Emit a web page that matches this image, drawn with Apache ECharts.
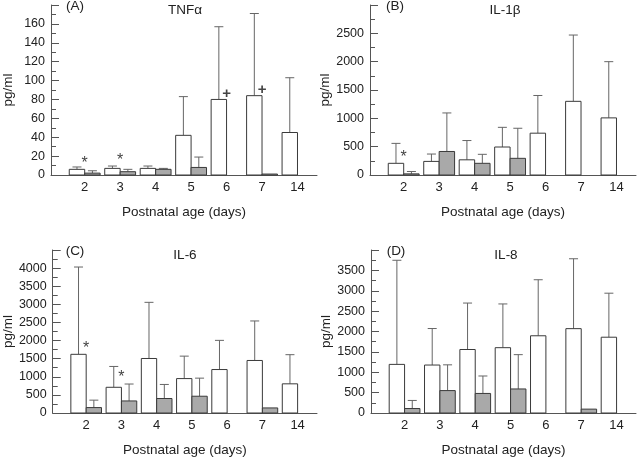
<!DOCTYPE html>
<html lang="en">
<head>
    <meta charset="UTF-8">
    <title>Cytokines by postnatal age</title>
    <script src="https://cdn.jsdelivr.net/npm/echarts@6/dist/echarts.min.js"></script>
    <style>
        html, body { margin: 0; padding: 0; background: #fff; }
        #main { width: 640px; height: 458px; }
    </style>
</head>
<body>
<div id="main"></div>
<script>
    // postnatal age categories
    var days = ['2', '3', '4', '5', '6', '7', '14'];

    // (A) TNFa - white = first group, grey = second group, sd = error bar length
    var tnfWhite = [6, 7, 7, 42, 80, 84, 45];
    var tnfWhiteSd = [2.5, 2.5, 2.5, 41, 77, 87, 58];
    var tnfGrey = [2, 3.5, 6, 8, null, 1, null];
    var tnfGreySd = [2.5, 2.5, 1, 11, null, 0, null];
    var tnfMarks = ['*', '*', '', '', '+', '+', ''];
    var tnfMarkAt = [16, 19, null, null, 86, 90, null];

    // (B) IL-1b
    var il1White = [206, 240, 268, 494, 738, 1300, 1008];
    var il1WhiteSd = [352, 130, 340, 347, 665, 1170, 992];
    var il1Grey = [20, 415, 206, 294, null, null, null];
    var il1GreySd = [42, 680, 159, 531, null, null, null];
    var il1Marks = ['*', '', '', '', '', '', ''];
    var il1MarkAt = [370, null, null, null, null, null, null];

    // (C) IL-6
    var il6White = [1620, 710, 1505, 950, 1200, 1450, 805];
    var il6WhiteSd = [2410, 575, 1550, 620, 805, 1091, 805];
    var il6Grey = [150, 333, 400, 463, null, 140, null];
    var il6GreySd = [205, 467, 388, 499, null, 0, null];
    var il6Marks = ['*', '*', '', '', '', '', ''];
    var il6MarkAt = [1880, 1090, null, null, null, null, null];

    // (D) IL-8
    var il8White = [1193, 1177, 1558, 1603, 1895, 2070, 1860];
    var il8WhiteSd = [2555, 896, 1140, 1073, 1375, 1715, 1080];
    var il8Grey = [110, 550, 480, 590, null, 95, null];
    var il8GreySd = [198, 632, 428, 842, null, 0, null];
    var il8Marks = ['', '', '', '', '', '', ''];
    var il8MarkAt = [null, null, null, null, null, null, null];

    var panels = [
        {tag: '(A)', name: 'TNF\u03b1', white: tnfWhite, whiteSd: tnfWhiteSd, grey: tnfGrey, greySd: tnfGreySd,
            marks: tnfMarks, markAt: tnfMarkAt, max: 180, step: 20,
            grid: {left: 50, top: 5, width: 267, height: 170}},
        {tag: '(B)', name: 'IL-1\u03b2', white: il1White, whiteSd: il1WhiteSd, grey: il1Grey, greySd: il1GreySd,
            marks: il1Marks, markAt: il1MarkAt, max: 3000, step: 500,
            grid: {left: 370, top: 5, width: 266, height: 170}},
        {tag: '(C)', name: 'IL-6', white: il6White, whiteSd: il6WhiteSd, grey: il6Grey, greySd: il6GreySd,
            marks: il6Marks, markAt: il6MarkAt, max: 4500, step: 500,
            grid: {left: 50, top: 250, width: 267, height: 171}},
        {tag: '(D)', name: 'IL-8', white: il8White, whiteSd: il8WhiteSd, grey: il8Grey, greySd: il8GreySd,
            marks: il8Marks, markAt: il8MarkAt, max: 4000, step: 500,
            grid: {left: 371, top: 250, width: 265, height: 171}}
    ];

    var HALF = 0.435; // bar width in category units

    // bar + error bar drawn through the axis scales
    function barRenderer(side, fill) {
        return function (params, api) {
            var i = api.value(0), m = api.value(1), sd = api.value(2);
            var x0 = side < 0 ? i - HALF : i;
            var x1 = side < 0 ? i : i + HALF;
            var top = api.coord([x0, m]);
            var base = api.coord([x1, 0]);
            var cx = (top[0] + base[0]) / 2;
            var cap = api.coord([x0, m + sd]);
            var children = [];
            if (sd > 0) {
                children.push({type: 'line', shape: {x1: cx, y1: top[1], x2: cx, y2: cap[1]},
                    style: {stroke: '#666', lineWidth: 1}});
                children.push({type: 'line', shape: {x1: cx - 4.5, y1: cap[1], x2: cx + 4.5, y2: cap[1]},
                    style: {stroke: '#666', lineWidth: 1}});
            }
            children.push({type: 'rect',
                shape: {x: top[0], y: top[1], width: base[0] - top[0], height: Math.max(base[1] - top[1], 1)},
                style: {fill: fill, stroke: '#3a3a3a', lineWidth: 1}});
            return {type: 'group', children: children};
        };
    }

    function seriesData(means, sds) {
        var out = [];
        means.forEach(function (v, i) {
            if (v != null) out.push([i, v, sds[i] || 0]);
        });
        return out;
    }

    var grids = [], xAxes = [], yAxes = [], series = [], graphics = [];

    panels.forEach(function (p, k) {
        grids.push(p.grid);
        xAxes.push({
            type: 'value', gridIndex: k, min: -0.95, max: 6.55,
            name: 'Postnatal age (days)', nameLocation: 'middle', nameGap: 30,
            nameTextStyle: {fontSize: 13.5, color: '#222', fontFamily: 'Liberation Sans'},
            axisLine: {show: true, onZero: false, lineStyle: {color: '#555'}},
            axisTick: {show: false},
            splitLine: {show: false},
            axisLabel: {
                customValues: [0, 1, 2, 3, 4, 5, 6], margin: 6,
                fontSize: 13, color: '#222', fontFamily: 'Liberation Sans',
                formatter: function (v) { return days[Math.round(v)]; }
            }
        });
        yAxes.push({
            type: 'value', gridIndex: k, min: 0, max: p.max, interval: p.step,
            name: 'pg/ml', nameLocation: 'middle', nameGap: 36,
            nameTextStyle: {fontSize: 13.5, color: '#222', fontFamily: 'Liberation Sans'},
            axisLine: {show: true, onZero: false, lineStyle: {color: '#555'}},
            axisTick: {show: true, inside: true, length: 8, lineStyle: {color: '#555'}},
            minorTick: {show: true, splitNumber: 2, length: 5, lineStyle: {color: '#555'}},
            splitLine: {show: false},
            axisLabel: {
                showMaxLabel: false, margin: 6, fontSize: 12.5, color: '#222', fontFamily: 'Liberation Sans',
                formatter: function (v) { return String(v); }
            }
        });
        series.push({
            type: 'custom', xAxisIndex: k, yAxisIndex: k,
            renderItem: barRenderer(-1, '#ffffff'),
            data: seriesData(p.white, p.whiteSd)
        });
        series.push({
            type: 'custom', xAxisIndex: k, yAxisIndex: k,
            renderItem: barRenderer(1, '#a9a9a9'),
            data: seriesData(p.grey, p.greySd)
        });
        // significance marks
        var markIdx = [];
        var markData = [];
        p.marks.forEach(function (s, i) {
            if (s) { markIdx.push(s); markData.push([i, p.markAt[i]]); }
        });
        series.push({
            type: 'custom', xAxisIndex: k, yAxisIndex: k,
            renderItem: function (params, api) {
                var pt = api.coord([api.value(0), api.value(1)]);
                var s = markIdx[params.dataIndex];
                var star = s === '*';
                var fs = star ? 16 : 15;
                return {type: 'text', x: pt[0], y: pt[1] + (star ? 0.23 * fs : 0),
                    style: {text: s, align: 'center', verticalAlign: 'middle',
                        fontSize: fs, fontWeight: star ? 'normal' : 'bold',
                        fill: '#444', fontFamily: 'Liberation Sans'}};
            },
            data: markData
        });

        var g = p.grid;
        graphics.push({type: 'text', x: g.left + 25, y: g.top + 1,
            style: {text: p.tag, align: 'center', verticalAlign: 'middle', fontSize: 13.5, fill: '#222', fontFamily: 'Liberation Sans'}});
        graphics.push({type: 'text', x: g.left + 135, y: g.top + 5,
            style: {text: p.name, align: 'center', verticalAlign: 'middle', fontSize: 13.5, fill: '#222', fontFamily: 'Liberation Sans'}});
    });

    var myChart = echarts.init(document.getElementById('main'));
    myChart.setOption({
        animation: false,
        backgroundColor: '#fff',
        grid: grids,
        xAxis: xAxes,
        yAxis: yAxes,
        series: series,
        graphic: graphics
    });
</script>
</body>
</html>
